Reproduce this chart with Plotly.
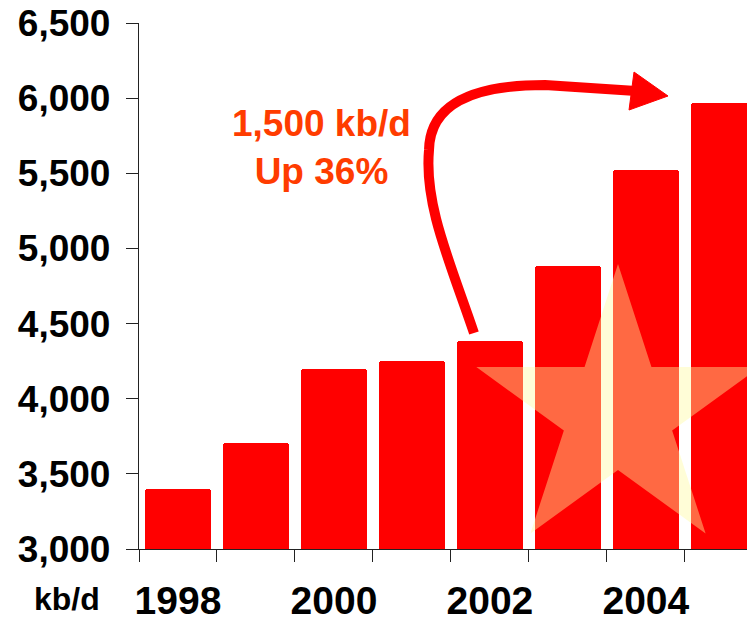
import math
import plotly.graph_objects as go

# ---- data ----
years = [1998, 1999, 2000, 2001, 2002, 2003, 2004, 2005]
production = [3400, 3705, 4200, 4250, 4385, 4880, 5520, 5965]
year_tick_vals = [1998, 2000, 2002, 2004]
year_tick_text = ["1998", "2000", "2002", "2004"]
y_tick_vals = [3000, 3500, 4000, 4500, 5000, 5500, 6000, 6500]
y_tick_text = ["3,000", "3,500", "4,000", "4,500", "5,000", "5,500", "6,000", "6,500"]
callout_text = "1,500 kb/d<br>Up 36%"
unit_text = "kb/d"

# ---- layout geometry (pixels) ----
OFF = 8  # default page body margin
W, H = 755 - OFF, 621 - OFF
L, R, T = 139 - OFF, 0, 23 - OFF
B = H - (549 - OFF)
PW, PH = W - L - R, H - T - B
X0, X1 = 1997.5, 2005.4
Y0, Y1 = 3000, 6500


def px(xp):  # page pixel x -> paper
    return (xp - OFF - L) / PW


def py(yp):  # page pixel y -> paper
    return (H - B - (yp - OFF)) / PH


def P(a, b):
    return f"{px(a):.4f},{py(b):.4f}"


fig = go.Figure()
fig.add_trace(go.Bar(
    x=years, y=production, width=0.84,
    marker=dict(color="#FF0000", line=dict(width=0), cornerradius=3),
    hoverinfo="x+y",
))

shapes = []
# star (decorative), regular 5-point star centred at page pixel (618,413)
cx, cy, Ro = 618, 413, 149
Ri = Ro * 0.382
pts = []
for i in range(10):
    r = Ro if i % 2 == 0 else Ri
    a = math.radians(i * 36)
    pts.append((cx + r * math.sin(a), cy - r * math.cos(a)))
star_path = "M " + " L ".join(P(a, b) for a, b in pts) + " Z"
shapes.append(dict(type="path", path=star_path, xref="paper", yref="paper",
                   fillcolor="rgb(255,250,160)", opacity=0.42,
                   line=dict(width=0), layer="above"))

# curved arrow
arrow_path = (f"M {P(474,333)} C {P(450,262)} {P(424,205)} {P(429,150)} "
              f"C {P(430,105)} {P(470,85)} {P(545,85)} L {P(636,91)}")
shapes.append(dict(type="path", path=arrow_path, xref="paper", yref="paper",
                   line=dict(color="#FF0000", width=10), layer="above"))
head_path = f"M {P(634,72)} L {P(668,96)} L {P(629,110)} Z"
shapes.append(dict(type="path", path=head_path, xref="paper", yref="paper",
                   fillcolor="#FF0000", line=dict(color="#FF0000", width=1),
                   layer="above"))

font_family = "Liberation Sans, Arial, sans-serif"

fig.update_layout(
    width=W, height=H,
    margin=dict(l=L, r=R, t=T, b=B, pad=0, autoexpand=False),
    paper_bgcolor="white", plot_bgcolor="white",
    showlegend=False,
    bargap=0,
    shapes=shapes,
    xaxis=dict(
        range=[X0, X1], tickmode="array", tickvals=year_tick_vals,
        ticktext=year_tick_text, ticks="", showgrid=False, zeroline=False,
        showline=True, linecolor="#222", linewidth=1.3, automargin=False,
        tickfont=dict(family=font_family, size=39, color="black", weight="bold"),
        ticklabelstandoff=17, ticklabeloverflow="allow",
        minor=dict(tickmode="array",
                   tickvals=[y - 0.5 for y in years],
                   ticks="outside", ticklen=12, tickcolor="#222", tickwidth=1.3,
                   showgrid=False),
    ),
    yaxis=dict(
        range=[Y0, Y1], tickmode="array", tickvals=y_tick_vals,
        ticktext=y_tick_text, ticks="outside", ticklen=12, tickcolor="#222",
        tickwidth=1.3, showgrid=False, zeroline=False, automargin=False,
        showline=True, linecolor="#222", linewidth=1.3,
        tickfont=dict(family=font_family, size=37, color="black", weight="bold"),
        ticklabelstandoff=8, ticklabeloverflow="allow",
    ),
    annotations=[
        dict(text=callout_text, xref="paper", yref="paper",
             x=px(321), y=py(147), xanchor="center", yanchor="middle",
             showarrow=False, align="center",
             font=dict(family=font_family, size=37, color="#FF3C00",
                       weight="bold")),
        dict(text=unit_text, xref="paper", yref="paper",
             x=px(67), y=py(599), xanchor="center", yanchor="middle",
             showarrow=False,
             font=dict(family=font_family, size=32, color="black",
                       weight="bold")),
    ],
)

fig.write_html("out.html")
